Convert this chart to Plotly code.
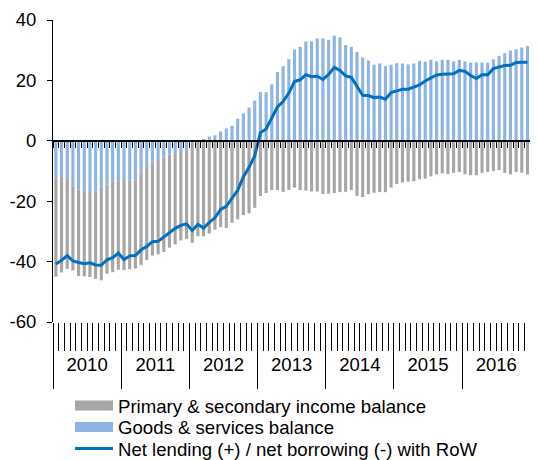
import plotly.graph_objects as go

# monthly data, Jan 2010 .. Dec 2016
YEARS = ['2010', '2011', '2012', '2013', '2014', '2015', '2016']

GOODS_SERVICES = [
    -12.5, -11.7, -12.6, -14.8, -16.1, -16.6, -17.0, -16.9, -15.6, -14.5, -13.6, -13.6,
    -13.3, -13.3, -13.1, -10.5, -8.7, -7.2, -6.1, -5.6, -4.5, -4.1, -3.7, -3.4,
    -0.3, 0.2, 0.5, 1.4, 1.8, 3.1, 4.1, 5.0, 7.3, 9.1, 11.0, 13.3,
    16.1, 16.1, 18.7, 22.8, 24.7, 27.0, 30.2, 31.1, 32.9, 32.9, 33.9, 33.9,
    33.4, 34.8, 34.3, 31.7, 31.1, 29.4, 27.6, 26.6, 25.2, 25.6, 24.7, 25.2,
    25.7, 25.6, 25.3, 25.6, 26.5, 26.2, 26.8, 26.3, 26.8, 26.8, 26.3, 26.8,
    26.3, 25.9, 25.9, 25.9, 25.9, 27.0, 28.1, 29.0, 29.9, 30.3, 30.9, 31.4,
]

INCOME = [
    -32.5, -31.9, -29.8, -28.1, -28.7, -28.3, -28.1, -28.8, -30.6, -29.5, -29.9, -29.1,
    -29.5, -29.2, -29.2, -30.6, -30.8, -30.8, -31.5, -31.2, -30.9, -30.2, -29.3, -29.1,
    -33.5, -31.6, -31.6, -30.7, -29.4, -28.6, -28.9, -27.2, -26.0, -24.6, -24.0, -22.2,
    -18.3, -17.3, -16.3, -16.3, -16.9, -16.3, -15.5, -16.3, -16.5, -16.8, -16.8, -17.6,
    -17.5, -17.3, -17.0, -16.9, -16.3, -18.2, -18.6, -17.7, -17.2, -17.0, -17.0, -15.5,
    -14.3, -13.8, -13.5, -13.4, -12.7, -12.5, -11.8, -11.1, -10.8, -11.0, -10.6, -10.3,
    -11.1, -11.4, -11.4, -10.6, -10.3, -10.0, -9.7, -10.6, -11.1, -10.3, -10.6, -11.1,
]

NET_LENDING = [
    -40.8, -39.6, -38.0, -39.8, -40.3, -40.7, -40.4, -41.1, -41.2, -39.4, -38.7, -37.2,
    -39.3, -38.1, -38.0, -36.1, -35.0, -33.4, -33.3, -31.8, -30.4, -29.0, -28.0, -27.5,
    -29.7, -27.7, -28.9, -27.0, -25.5, -22.7, -21.7, -19.2, -16.4, -12.0, -8.8, -5.0,
    2.7, 3.9, 7.7, 11.2, 13.0, 15.8, 19.6, 20.2, 21.9, 21.2, 21.4, 20.3,
    22.0, 24.3, 23.3, 21.5, 21.0, 18.0, 15.1, 15.0, 14.3, 14.5, 13.8, 16.0,
    16.6, 17.1, 17.1, 17.8, 18.5, 19.8, 20.8, 21.8, 22.0, 22.0, 22.2, 23.3,
    23.0, 21.6, 20.6, 21.9, 21.9, 23.9, 24.5, 24.9, 25.0, 25.9, 26.0, 26.0,
]

Y_TICKS = [-60, -40, -20, 0, 20, 40]
Y_LABELS = ['-60', '-40', '-20', '0', '20', '40']   # plain hyphen like the original

NAMES = [
    'Primary & secondary income balance',
    'Goods & services balance',
    'Net lending (+) / net borrowing (-) with RoW',
]
GREY = '#A6A6A6'
LIGHT_BLUE = '#8DB4E2'
BLUE = '#0070C0'

# the page body has an 8px margin, so the figure is drawn 8px smaller
OFF = 8
W, H = 538 - OFF, 460 - OFF
n = len(NET_LENDING)
x = list(range(n))
n_cat = n + 1                      # one empty slot after Dec 2016
x_range = [-0.5, n_cat - 0.5]
month_edges = [i - 0.5 for i in range(n_cat + 1)]
year_edges = [12 * k - 0.5 for k in range(len(YEARS))]
year_mid = [12 * k + 5.5 for k in range(len(YEARS))]
zero_pos = (0 - Y_TICKS[0]) / (Y_TICKS[-1] - Y_TICKS[0])

FONT = 'Liberation Sans, Arial, sans-serif'

fig = go.Figure()

# blue first so negative goods & services sits next to the zero line
fig.add_trace(go.Bar(x=x, y=GOODS_SERVICES, marker_color=LIGHT_BLUE,
                     marker_line_width=0, showlegend=False, name=NAMES[1]))
fig.add_trace(go.Bar(x=x, y=INCOME, marker_color=GREY,
                     marker_line_width=0, showlegend=False, name=NAMES[0]))
fig.add_trace(go.Scatter(x=x, y=NET_LENDING, mode='lines',
                         line=dict(color=BLUE, width=3), showlegend=False,
                         name=NAMES[2]))

# legend entries (wide swatches like the original), one legend per row
legend_rows = [406 - OFF, 427.5 - OFF, 449 - OFF]
legend_ids = ['legend', 'legend2', 'legend3']
for name, col, w, lid in zip(NAMES, [GREY, LIGHT_BLUE, BLUE], [12, 12, 3], legend_ids):
    fig.add_trace(go.Scatter(x=[None], y=[None], mode='lines', name=name,
                             line=dict(color=col, width=w), legend=lid))

# empty traces so the helper axes get drawn
for ax in ['x2', 'x3', 'x4']:
    fig.add_trace(go.Scatter(x=[None], y=[None], xaxis=ax, yaxis='y',
                             showlegend=False, hoverinfo='skip'))

common = dict(range=x_range, showgrid=False, zeroline=False, fixedrange=True)

legends = {}
for lid, row in zip(legend_ids, legend_rows):
    legends[lid] = dict(xref='container', yref='container',
                        x=62 / W, xanchor='left', y=1 - row / H, yanchor='middle',
                        font=dict(size=18.6), itemwidth=38,
                        bgcolor='rgba(0,0,0,0)')

fig.update_layout(
    width=W, height=H,
    margin=dict(l=53 - OFF, r=2, t=20 - OFF, b=138, autoexpand=False),
    barmode='relative', bargap=0.45,
    plot_bgcolor='white', paper_bgcolor='white',
    font=dict(family=FONT, size=18, color='black'),
    # month separators below the plot
    xaxis=dict(**common, showline=False, tickmode='array', tickvals=month_edges,
               ticks='outside', ticklen=28, tickwidth=1, tickcolor='black',
               showticklabels=False),
    # year separators
    xaxis2=dict(**common, overlaying='x', anchor='y', showline=False,
                tickmode='array', tickvals=year_edges, ticks='outside',
                ticklen=66, tickwidth=1, tickcolor='black', showticklabels=False),
    # year labels
    xaxis3=dict(**common, overlaying='x', anchor='y', showline=False,
                tickmode='array', tickvals=year_mid, ticktext=YEARS, ticks='',
                ticklabelstandoff=29, tickfont=dict(size=18.5)),
    # zero line with small month ticks
    xaxis4=dict(**common, overlaying='x', anchor='free', position=zero_pos,
                showline=True, linecolor='black', linewidth=1.5,
                tickmode='array', tickvals=month_edges, ticks='outside',
                ticklen=6, tickwidth=1, tickcolor='black', showticklabels=False),
    yaxis=dict(range=[Y_TICKS[0], Y_TICKS[-1]], tickmode='array', tickvals=Y_TICKS,
               ticktext=Y_LABELS, showgrid=False,
               zeroline=False, showline=True, linecolor='black', linewidth=1,
               ticks='outside', ticklen=5, tickcolor='black',
               ticklabelstandoff=7, tickfont=dict(size=18.5), fixedrange=True),
    showlegend=True,
    **legends,
)

fig.write_html('out.html')
